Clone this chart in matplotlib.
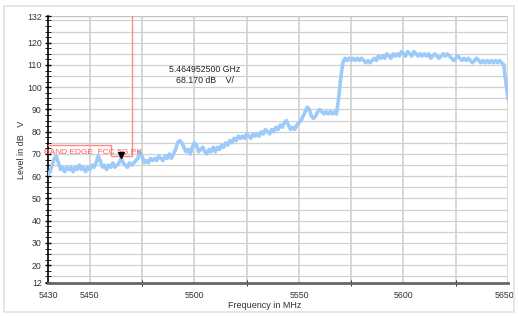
# Espectro: band edge FCC 5G PK
import numpy as np
import matplotlib
matplotlib.use('Agg')
import matplotlib.pyplot as plt
import matplotlib.transforms as mtransforms
from matplotlib.patches import Rectangle

plt.rcParams['font.family'] = ['Liberation Sans', 'DejaVu Sans']

# INGRESO
f_ini = 5430
f_fin = 5650
# traza leída cada 1 MHz (dBuV)
nivel = [61, 62, 65, 68, 69, 66, 63, 64, 62, 64,
         63, 64, 62, 64, 63, 65, 63, 64, 62, 64,
         63, 65, 64, 66, 69, 67, 64, 65, 63, 65,
         64, 66, 64, 65, 66, 68, 66, 65, 64, 66,
         65, 66, 67, 68, 71, 69, 66, 67, 66, 68,
         67, 68, 67, 69, 68, 67, 69, 68, 70, 68,
         70, 72, 75, 76, 75, 73, 71, 72, 70, 73,
         75, 74, 71, 72, 73, 71, 70, 72, 71, 73,
         71, 73, 72, 74, 73, 75, 74, 76, 75, 77,
         76, 78, 77, 78, 77, 79, 78, 77, 79, 78,
         79, 78, 80, 79, 81, 80, 79, 81, 80, 82,
         81, 83, 82, 84, 85, 83, 81, 82, 81, 83,
         84, 85, 87, 89, 91, 90, 87, 86, 87, 89,
         90, 89, 88, 89, 88, 89, 88, 89, 88, 95,
         104, 111, 113, 112, 113, 112, 113, 112, 113, 112,
         113, 112, 111, 112, 111, 112, 113, 112, 114, 113,
         114, 113, 115, 114, 113, 115, 114, 115, 114, 116,
         115, 114, 116, 115, 114, 116, 115, 114, 115, 114,
         115, 114, 115, 113, 114, 115, 114, 113, 114, 115,
         114, 115, 114, 113, 112, 113, 114, 113, 112, 113,
         112, 113, 112, 111, 112, 113, 112, 111, 112, 111,
         112, 111, 112, 111, 112, 111, 112, 111, 110, 102,
         95]
frec = np.arange(f_ini, f_fin + 1, 1)

# linea limite (MHz, dB)
lim_f = [5430, 5460, 5460, 5470, 5470]
lim_y = [74, 74, 69, 69, 132]

# marcador
mk_f = 5464.9525
mk_y = 68.17

xticks = [5430, 5450, 5500, 5550, 5600, 5650]
yticks = [12, 20, 30, 40, 50, 60, 70, 80, 90, 100, 110, 120, 132]

# GRAFICA
fig = plt.figure(figsize=(5.18, 3.16), dpi=100)
ax = fig.add_axes([48/518, 1 - 283/316, 460/518, 267/316])

# marco exterior
fig.patches.append(Rectangle((4/518, 1 - 312/316), 510/518, 306/316,
                             transform=fig.transFigure, fill=False,
                             edgecolor='#e2e2e2', linewidth=1.2))

# rejilla
for xg in range(5450, 5651, 25):
    ax.axvline(xg, color='#d6d6d6', lw=1.4, zorder=1)
for yg in range(15, 133, 5):
    ax.axhline(yg, color='#d0d0d0', lw=0.9, zorder=1)
ax.axhline(132, color='#c4c4c4', lw=1.0, zorder=1)

ax.plot(frec, nivel, color='#9ccbfa', lw=2.6, zorder=3)

ax.plot(lim_f, lim_y, color='#ff8a8a', lw=1.0, zorder=4)
ax.text(5428.0, 70.7, 'BAND EDGE  FCC 5G PK', color='#ff5c5c',
        fontsize=6.0, va='center', ha='left', zorder=5, clip_on=False)

tr = mtransforms.offset_copy(ax.transData, fig=fig, x=0, y=3, units='dots')
ax.plot([mk_f], [mk_y], marker='v', color='black', markersize=5,
        transform=tr, zorder=6)
ax.text(5505, 105.5, '5.464952500 GHz\n68.170 dB    V/', fontsize=6.3,
        ha='center', va='center', color='#222222', linespacing=1.3)

ax.set_xlim(f_ini, f_fin)
ax.set_ylim(12, 132)
ax.set_xticks(xticks)
ax.set_xticks(range(5450, 5651, 25), minor=True)
ax.set_yticks(yticks)
ax.set_yticks(np.arange(12.5, 132, 2.5), minor=True)
ax.tick_params(axis='both', labelsize=6.3, colors='#333333',
               direction='inout', length=5, width=1, pad=2)
ax.tick_params(axis='x', which='major', length=0, pad=6)
ax.tick_params(axis='x', which='minor', direction='inout', length=5,
               color='black')
ax.tick_params(axis='y', which='minor', direction='inout', length=4,
               color='black')
ax.tick_params(axis='y', which='major', color='black')

# ultima etiqueta x corrida a la izquierda para que no se corte
ult = ax.get_xticklabels()[-1]
ult.set_transform(ult.get_transform() +
                  mtransforms.ScaledTranslation(-4/100, 0, fig.dpi_scale_trans))

for lado in ['top', 'right']:
    ax.spines[lado].set_visible(False)
ax.spines['left'].set_color('black')
ax.spines['left'].set_linewidth(1.2)
ax.spines['bottom'].set_color('#666666')
ax.spines['bottom'].set_linewidth(2.0)

fig.text(22/518, 1 - 150/316, 'Level in dB   V', rotation=90,
         fontsize=6.5, ha='center', va='center', color='#333333')
fig.text(265/518, 1 - 305/316, 'Frequency in MHz', fontsize=6.5,
         ha='center', va='center', color='#333333')

plt.savefig('out.png', dpi=100)
